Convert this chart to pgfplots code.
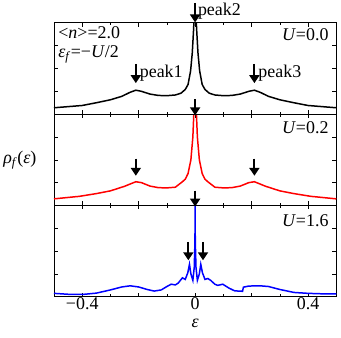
\documentclass[border=0pt]{standalone}
\usepackage{fontspec}
\setmainfont{Liberation Serif}
\usepackage{pgfplots}
\pgfplotsset{compat=1.18}
\usetikzlibrary{arrows.meta}

\pgfplotsset{
  panel/.style={
    width=283.5pt, height=91.7pt, scale only axis,
    xmin=-0.5, xmax=0.5, ymin=0, ymax=4,
    xtick={-0.4,-0.2,0,0.2,0.4}, minor x tick num=1,
    ytick={1,2,3}, yticklabels={}, xticklabels={},
    tick align=inside, tick pos=both,
    major tick length=4pt, minor tick length=2.5pt,
    axis line style={line width=0.8pt},
    every tick/.style={black, line width=0.6pt},
    clip mode=individual,
    tick label style={font=\fontsize{18}{20}\selectfont, inner sep=1pt},
  },
  curve/.style={line width=1.5pt},
}
\tikzset{arr/.style={line width=2pt, -{Triangle[length=8pt,width=10pt]}}}
\newcommand{\lbl}{\fontsize{18}{20}\selectfont}

\begin{document}
\begin{tikzpicture}
% U = 1.6
\begin{axis}[panel, at={(0,0)},
  xticklabels={−0.4,,0,,0.4}]
\addplot[curve, blue] coordinates {
  (-0.5,0.15) (-0.45,0.11) (-0.4,0.10) (-0.35,0.16) (-0.3,0.30) (-0.26,0.43)
  (-0.23,0.48) (-0.2,0.43) (-0.17,0.32) (-0.145,0.25) (-0.12,0.30) (-0.1,0.45)
  (-0.085,0.55) (-0.07,0.52) (-0.06,0.60) (-0.045,0.83) (-0.035,0.76)
  (-0.026,1.05) (-0.02,1.42) (-0.015,1.0) (-0.008,0.72) (-0.003,1.3)
  (-0.0005,2.5) (0,5) (0.0005,2.5) (0.003,1.3) (0.008,0.72) (0.015,1.0)
  (0.02,1.42) (0.026,1.05) (0.035,0.76) (0.045,0.80) (0.055,0.72) (0.07,0.55)
  (0.08,0.50) (0.098,0.55) (0.12,0.38) (0.14,0.26) (0.168,0.24) (0.171,0.42)
  (0.19,0.47) (0.23,0.48) (0.26,0.45) (0.3,0.32) (0.35,0.19) (0.4,0.15)
  (0.45,0.13) (0.5,0.13)};
\node[anchor=east, font=\lbl] at (axis cs:0.485,3.35) {\textit{U}=1.6};
\node[font=\lbl, inner sep=0pt, anchor=base] at ([yshift=-31pt]axis description cs:0.5,0) {\textit{ε}};
\draw[arr] (axis cs:0,4.65) -- (axis cs:0,3.95);
\draw[arr] (axis cs:-0.024,2.4) -- (axis cs:-0.024,1.6);
\draw[arr] (axis cs:0.028,2.4) -- (axis cs:0.028,1.6);
\end{axis}
% U = 0.2
\begin{axis}[panel, at={(0,91.7pt)}]
\addplot[curve, red] coordinates {
  (-0.5,0.29) (-0.41,0.40) (-0.35,0.52) (-0.3,0.64) (-0.25,0.84) (-0.21,1.04)
  (-0.19,1.0) (-0.16,0.85) (-0.13,0.78) (-0.1,0.77) (-0.07,0.80) (-0.045,1.04)
  (-0.035,1.15) (-0.025,1.4) (-0.015,2.0) (-0.008,3.0) (-0.003,4.5) (0,6)
  (0.003,4.5) (0.008,3.0) (0.015,2.0) (0.025,1.4) (0.035,1.15) (0.045,1.04)
  (0.07,0.80) (0.1,0.77) (0.13,0.78) (0.16,0.85) (0.19,1.0) (0.21,1.04)
  (0.25,0.84) (0.3,0.64) (0.35,0.52) (0.41,0.40) (0.5,0.29)};
\node[anchor=east, font=\lbl] at (axis cs:0.485,3.4) {\textit{U}=0.2};
\node[anchor=east, font=\lbl] at (axis description cs:-0.05,0.5)
  {\textit{ρ}\textsubscript{\textit{f}}(\textit{ε})};
\draw[arr] (axis cs:0,4.65) -- (axis cs:0,3.95);
\draw[arr] (axis cs:-0.21,2.05) -- (axis cs:-0.21,1.3);
\draw[arr] (axis cs:0.21,2.05) -- (axis cs:0.21,1.3);
\end{axis}
% U = 0.0
\begin{axis}[panel, at={(0,183.4pt)}]
\addplot[curve, black] coordinates {
  (-0.5,0.28) (-0.45,0.33) (-0.4,0.38) (-0.35,0.50) (-0.3,0.63) (-0.26,0.78)
  (-0.23,0.96) (-0.21,1.05) (-0.19,1.0) (-0.16,0.88) (-0.13,0.82) (-0.1,0.81)
  (-0.07,0.84) (-0.05,0.92) (-0.035,1.08) (-0.025,1.3) (-0.016,1.9)
  (-0.01,2.7) (-0.005,3.8) (0,6) (0.005,3.8) (0.01,2.7) (0.016,1.9)
  (0.025,1.3) (0.035,1.08) (0.05,0.92) (0.07,0.84) (0.1,0.81) (0.13,0.82)
  (0.16,0.88) (0.19,1.0) (0.21,1.05) (0.23,0.96) (0.26,0.78) (0.3,0.63)
  (0.35,0.50) (0.4,0.38) (0.45,0.33) (0.5,0.28)};
\node[anchor=west, font=\lbl] at (axis cs:-0.497,3.55) {\textless\textit{n}\textgreater=2.0};
\node[anchor=west, font=\lbl] at (axis cs:-0.497,2.62) {\textit{ε}\textsubscript{\textit{f}}=−\textit{U}/2};
\node[anchor=east, font=\lbl] at (axis cs:0.485,3.5) {\textit{U}=0.0};
\draw[arr] (axis cs:0,4.88) -- (axis cs:0,4.02);
\node[anchor=west, font=\lbl, inner xsep=1pt] at (axis cs:0.006,4.5) {peak2};
\draw[arr] (axis cs:-0.21,2.2) -- (axis cs:-0.21,1.36);
\node[anchor=west, font=\lbl, inner xsep=1pt] at (axis cs:-0.2,1.8) {peak1};
\draw[arr] (axis cs:0.21,2.2) -- (axis cs:0.21,1.36);
\node[anchor=west, font=\lbl, inner xsep=1pt] at (axis cs:0.22,1.8) {peak3};
\end{axis}
\path (-52.75pt,-41pt) rectangle (288.25pt,297pt);
\end{tikzpicture}
\end{document}
